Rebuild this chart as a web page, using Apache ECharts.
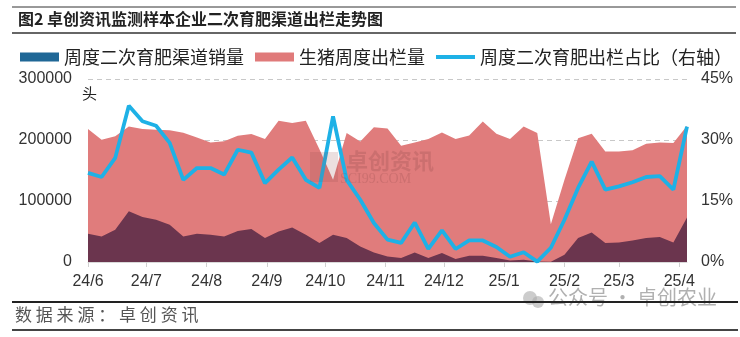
<!DOCTYPE html>
<html>
<head>
<meta charset="utf-8">
<script src="https://cdn.jsdelivr.net/npm/echarts@6/dist/echarts.min.js"></script>
<style>
html,body{margin:0;padding:0;background:#fff;}
#c{width:740px;height:337px;}
</style>
</head>
<body>
<div id="c"></div>
<script>
// ---- data ----
var dates = ['2024-06-06','2024-06-13','2024-06-20','2024-06-27','2024-07-04','2024-07-11','2024-07-18','2024-07-25',
 '2024-08-01','2024-08-08','2024-08-15','2024-08-22','2024-08-29','2024-09-05','2024-09-12','2024-09-19','2024-09-26',
 '2024-10-03','2024-10-10','2024-10-17','2024-10-24','2024-10-31','2024-11-07','2024-11-14','2024-11-21','2024-11-28',
 '2024-12-05','2024-12-12','2024-12-19','2024-12-26','2025-01-02','2025-01-09','2025-01-16','2025-01-23','2025-01-30',
 '2025-02-06','2025-02-13','2025-02-20','2025-02-27','2025-03-06','2025-03-13','2025-03-20','2025-03-27','2025-04-03','2025-04-10'];
var hogOutput = [218000,200500,206000,222000,218000,217000,216000,212000,204000,196000,198000,207000,209800,201600,231600,227900,231600,
 185000,135000,211500,197700,220700,219000,190700,196000,201600,212500,201600,207500,230500,210300,201600,222300,211500,62000,
 135000,203000,210300,181300,181300,183000,194000,196000,195000,223400];
var channelSales = [46400,42000,53000,83000,73800,69300,61100,42000,46400,44700,42000,51000,54000,39300,50200,56700,44800,
 31100,44800,39300,25600,15700,9200,6500,15700,6500,14700,4900,10300,10300,6500,2600,3800,1000,500,
 12000,39300,48500,31100,32100,35400,39300,41000,32100,73100];
var shareRatio = [21.9,20.9,25.6,38.4,34.6,33.5,29.3,20.2,23.1,23.1,21.5,27.6,26.9,19.4,22.7,25.7,20.2,
 18.2,35.8,20.2,15.3,9.6,5.5,4.7,9.7,3.2,7.8,3.2,5.3,5.3,3.7,1.3,2.4,0.1,3.5,
 10.4,18.2,24.7,17.8,18.6,19.6,20.9,21.1,17.8,33.3];
var tickDates = ['2024-06-06','2024-07-06','2024-08-06','2024-09-06','2024-10-06','2024-11-06','2024-12-06',
 '2025-01-06','2025-02-06','2025-03-06','2025-04-06'];
var tickLabels = ['24/6','24/7','24/8','24/9','24/10','24/11','24/12','25/1','25/2','25/3','25/4'];
var seriesNames = ['周度二次育肥渠道销量','生猪周度出栏量','周度二次育肥出栏占比（右轴）'];
var leftTicks = [0,100000,200000,300000];
var rightTicks = [0,15,30,45];

// day number from date string (x position source)
var D = function(s){ var p=s.split('-'); return Date.UTC(+p[0],+p[1]-1,+p[2])/86400000; };
var tickVals = tickDates.map(D);
var labelMap = {};
tickVals.forEach(function(v,i){ labelMap[v] = tickLabels[i]; });

var numFont = "'Liberation Sans',sans-serif";
var cjk = "'Noto Sans CJK SC','Noto Sans',sans-serif";

var chart = echarts.init(document.getElementById('c'), null, {renderer:'canvas'});
chart.setOption({
  animation:false,
  backgroundColor:'#fff',
  grid:{left:88,right:53,top:79,bottom:75,containLabel:false},
  legend:{
    left:20, top:48, width:730, padding:0, itemWidth:39, itemHeight:9, itemGap:11,
    textStyle:{fontFamily:cjk,fontSize:18,color:'#222'},
    data:[
      {name:seriesNames[0], icon:'rect', itemStyle:{color:'#1f6796'}},
      {name:seriesNames[1], icon:'rect', itemStyle:{color:'#e07a7a'}},
      {name:seriesNames[2], icon:'path://M0,0 L38,0 L38,4 L0,4 Z', itemStyle:{color:'#1eb1e6'}}
    ]
  },
  xAxis:{
    type:'value',
    min:D(dates[0]), max:D(dates[dates.length-1]),
    axisLine:{show:true,lineStyle:{color:'#d9d9d9',width:1}},
    axisTick:{show:true,customValues:tickVals,length:5,lineStyle:{color:'#d0d0d0'}},
    axisLabel:{customValues:tickVals,formatter:function(v){return labelMap[v]||'';},
      fontFamily:numFont,fontSize:16,color:'#333',margin:12},
    splitLine:{show:false}
  },
  yAxis:[
    {type:'value',min:leftTicks[0],max:leftTicks[3],interval:100000,
     name:'头',nameLocation:'end',nameGap:-22,nameTextStyle:{fontFamily:cjk,fontSize:15,color:'#222',align:'left',padding:[0,0,0,-6]},
     axisLine:{show:false},axisTick:{show:false},
     axisLabel:{fontFamily:numFont,fontSize:16,color:'#333',margin:16,formatter:function(v){return String(v);}},
     splitLine:{show:true,lineStyle:{color:'#c8c8c8',type:[5,4],width:1}}},
    {type:'value',min:rightTicks[0],max:rightTicks[3],interval:15,
     axisLine:{show:false},axisTick:{show:false},
     axisLabel:{fontFamily:numFont,fontSize:16,color:'#333',margin:14,formatter:'{value}%'},
     splitLine:{show:false}}
  ],
  series:[
    {name:seriesNames[1],type:'line',yAxisIndex:0,data:dates.map(function(d,i){return [D(d),hogOutput[i]];}),
     symbol:'none',lineStyle:{width:0},itemStyle:{color:'#e07a7a'},areaStyle:{color:'#e07c7c',opacity:1},z:1},
    {name:seriesNames[0],type:'line',yAxisIndex:0,data:dates.map(function(d,i){return [D(d),channelSales[i]];}),
     symbol:'none',lineStyle:{width:0},itemStyle:{color:'#1f6796'},areaStyle:{color:'#6b354e',opacity:1},z:2},
    {name:seriesNames[2],type:'line',yAxisIndex:1,data:dates.map(function(d,i){return [D(d),shareRatio[i]];}),
     symbol:'none',lineStyle:{width:3.8,color:'#1eb1e6'},itemStyle:{color:'#1eb1e6'},z:3}
  ],
  graphic:[
    {type:'line',shape:{x1:12,y1:7,x2:736,y2:7},style:{stroke:'#333',lineWidth:1}},
    {type:'line',shape:{x1:12,y1:33,x2:736,y2:33},style:{stroke:'#333',lineWidth:1.5}},
    {type:'text',left:18,top:11,style:{text:'图2 卓创资讯监测样本企业二次育肥渠道出栏走势图',font:"bold 16px 'Noto Sans CJK SC'",fill:'#222'}},
    {type:'text',left:346,top:150,z:10,style:{text:'卓创资讯',font:"bold 22px 'Noto Sans CJK SC'",fill:'rgba(150,80,80,0.28)'}},
    {type:'text',left:340,top:172,z:10,style:{text:'SCI99.COM',font:"14px 'Liberation Serif'",fill:'rgba(150,80,80,0.28)'}},
    {type:'rect',shape:{x:310,y:152,width:28,height:30},z:10,style:{fill:'rgba(150,80,80,0.18)'}},
    {type:'circle',shape:{cx:530,cy:298,r:7},style:{fill:'rgba(170,170,170,0.6)'}},
    {type:'circle',shape:{cx:538,cy:302,r:6},style:{fill:'rgba(170,170,170,0.6)'}},
    {type:'text',left:548,top:287,style:{text:'公众号 · 卓创农业',font:"20px 'Noto Sans CJK SC'",fill:'rgba(150,150,150,0.75)'}},
    {type:'line',shape:{x1:12,y1:302,x2:738,y2:302},style:{stroke:'#222',lineWidth:2}},
    {type:'text',left:15,top:306,style:{text:'数 据 来 源 ： 卓 创 资 讯',font:"17px 'Noto Sans CJK SC'",fill:'#555'}},
    {type:'line',shape:{x1:12,y1:330,x2:738,y2:330},style:{stroke:'#444',lineWidth:2}}
  ]
});
</script>
</body>
</html>
